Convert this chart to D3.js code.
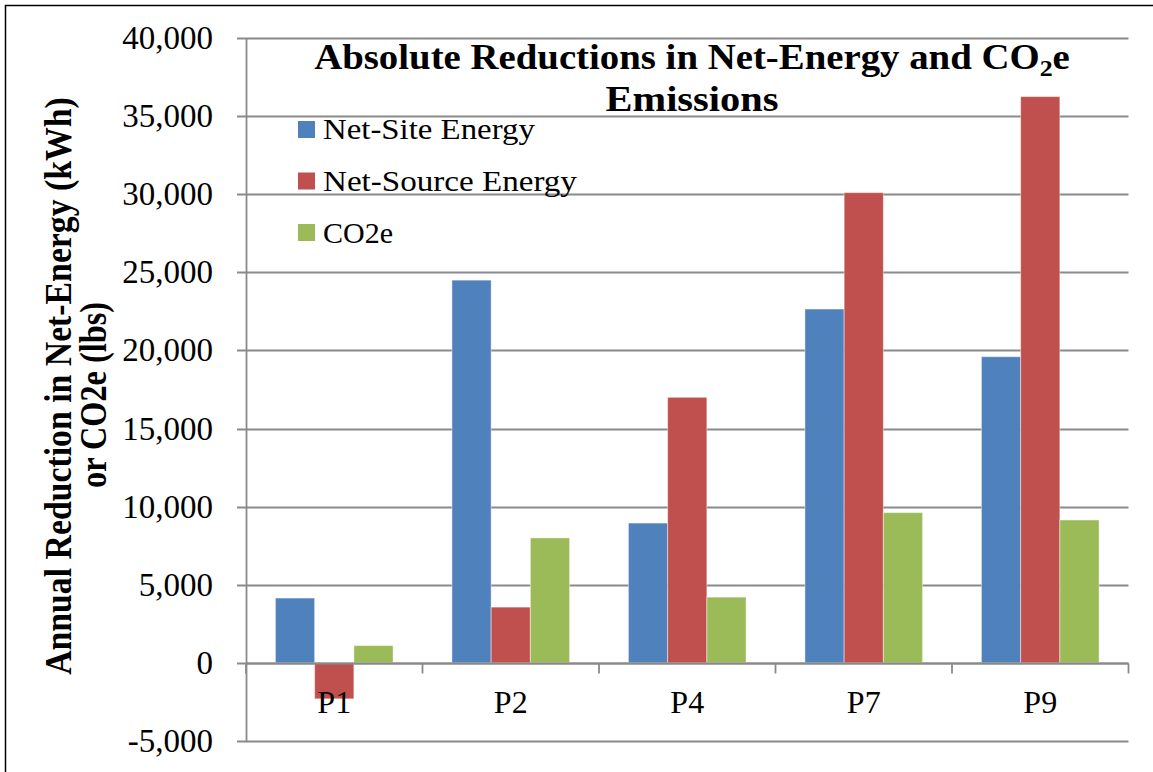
<!DOCTYPE html>
<html>
<head>
<meta charset="utf-8">
<script src="https://cdn.jsdelivr.net/npm/d3@7"></script>
<style>
  html, body { margin: 0; padding: 0; background: #fff; }
  svg { display: block; }
  text { font-family: "Liberation Serif", "DejaVu Serif", serif; fill: #000; }
</style>
</head>
<body>
<svg id="chart" width="1153" height="772"></svg>
<script>
// ---- data ----
const categories = ["P1", "P2", "P4", "P7", "P9"];
const seriesNames = ["Net-Site Energy", "Net-Source Energy", "CO2e"];
const netSite = [4150, 24500, 8950, 22650, 19600];
const netSource = [-2300, 3570, 17000, 30100, 36250];
const co2e = [1110, 8000, 4210, 9620, 9150];
const yTicks = [-5000, 0, 5000, 10000, 15000, 20000, 25000, 30000, 35000, 40000];
const colors = ["#4F81BD", "#C0504D", "#9BBB59"];

const seriesValues = [netSite, netSource, co2e];
const table = categories.map((c, i) => ({
  cat: c,
  vals: seriesNames.map((s, j) => ({ key: s, value: seriesValues[j][i], idx: j }))
}));

const svg = d3.select("#chart");

// outer frame (left & top)
svg.append("path").attr("d", "M5.5,772 L5.5,5.5 L1153,5.5")
  .attr("fill", "none").attr("stroke", "#000").attr("stroke-width", 1.5);

const plot = { left: 246, right: 1128.5, top: 38, bottom: 741 };

const y = d3.scaleLinear().domain([-5000, 40000]).range([plot.bottom, plot.top]);
const x0 = d3.scaleBand().domain(categories).range([plot.left, plot.right]).padding(0);
const x1 = d3.scaleBand().domain(seriesNames).range([0, x0.bandwidth()]).paddingInner(0).paddingOuter(0.75);

const gridColor = "#8a8a8a";
const fmt = d3.formatLocale({ decimal: ".", thousands: ",", grouping: [3], currency: ["", ""], minus: "-" }).format(",");

// gridlines (with tick extension to the left)
svg.append("g").selectAll("line").data(yTicks).join("line")
  .attr("x1", plot.left - 9).attr("x2", plot.right)
  .attr("y1", d => Math.round(y(d)) + 0.5).attr("y2", d => Math.round(y(d)) + 0.5)
  .attr("stroke", gridColor).attr("stroke-width", 1.8);

// helper: horizontally scale a text element to a target width around its anchor
function fitWidth(sel, target, cx) {
  const w = sel.node().getComputedTextLength();
  const s = target / w;
  sel.attr("transform", `translate(${cx},0) scale(${s},1) translate(${-cx},0)`);
}

// y tick labels
svg.append("g").selectAll("text").data(yTicks).join("text")
  .attr("x", 213).attr("y", d => y(d) + 11)
  .attr("text-anchor", "end")
  .style("font-size", "33px")
  .text(d => fmt(d));

// left axis line
svg.append("line")
  .attr("x1", plot.left + 0.5).attr("x2", plot.left + 0.5)
  .attr("y1", plot.top).attr("y2", plot.bottom + 1)
  .attr("stroke", gridColor).attr("stroke-width", 1.8);

// bars
const groups = svg.append("g").selectAll("g").data(table).join("g")
  .attr("transform", d => `translate(${x0(d.cat)},0)`);
groups.selectAll("rect").data(d => d.vals).join("rect")
  .attr("x", d => x1(d.key))
  .attr("width", x1.bandwidth())
  .attr("y", d => y(Math.max(0, d.value)))
  .attr("height", d => Math.abs(y(d.value) - y(0)))
  .attr("fill", d => colors[d.idx])
  .attr("stroke", "rgba(255,255,255,0.45)").attr("stroke-width", 1);

// zero (category) axis line and ticks
const zeroY = Math.round(y(0)) + 0.5;
svg.append("line")
  .attr("x1", plot.left).attr("x2", plot.right)
  .attr("y1", zeroY).attr("y2", zeroY)
  .attr("stroke", gridColor).attr("stroke-width", 1.8);
const boundaries = categories.map(c => x0(c)).concat([plot.right]);
svg.append("g").selectAll("line").data(boundaries).join("line")
  .attr("x1", d => d).attr("x2", d => d)
  .attr("y1", zeroY).attr("y2", zeroY + 10)
  .attr("stroke", gridColor).attr("stroke-width", 1.8);

// category labels
svg.append("g").selectAll("text").data(categories).join("text")
  .attr("x", d => x0(d) + x0.bandwidth() / 2)
  .attr("y", 713)
  .attr("text-anchor", "middle")
  .style("font-size", "32px")
  .text(d => d);

// title
const t1 = svg.append("text")
  .attr("x", 692).attr("y", 69)
  .attr("text-anchor", "middle")
  .style("font-size", "36px").style("font-weight", "bold");
t1.append("tspan").text("Absolute Reductions in Net-Energy and CO");
t1.append("tspan").attr("dy", 7).style("font-size", "24px").text("2");
t1.append("tspan").attr("dy", -7).text("e");
fitWidth(t1, 756, 692);

const t2 = svg.append("text")
  .attr("x", 692).attr("y", 111)
  .attr("text-anchor", "middle")
  .style("font-size", "36px").style("font-weight", "bold")
  .text("Emissions");
fitWidth(t2, 173, 692);

// legend
const legend = svg.append("g");
const legY = [129.5, 181, 232.5];
const legW = [212, 254, 70];
seriesNames.forEach((s, i) => {
  legend.append("rect")
    .attr("x", 298).attr("y", legY[i] - 8.5)
    .attr("width", 17).attr("height", 17)
    .attr("fill", colors[i]);
  const t = legend.append("text")
    .attr("x", 323).attr("y", legY[i] + 10)
    .style("font-size", "30px")
    .text(s);
  fitWidth(t, legW[i], 323);
});

// y-axis title (rotated, two lines)
function fitRot(sel, target, tx, ty) {
  const w = sel.node().getComputedTextLength();
  const s = target / w;
  sel.attr("transform", `translate(${tx},${ty}) rotate(-90) scale(${s},1)`);
}
const yl1 = svg.append("text")
  .attr("text-anchor", "middle")
  .style("font-size", "37px").style("font-weight", "bold")
  .text("Annual Reduction in Net-Energy (kWh)");
fitRot(yl1, 578, 71, 386);
const yl2 = svg.append("text")
  .attr("text-anchor", "middle")
  .style("font-size", "37px").style("font-weight", "bold")
  .text("or  CO2e (lbs)");
fitRot(yl2, 186, 106, 395);
</script>
</body>
</html>
